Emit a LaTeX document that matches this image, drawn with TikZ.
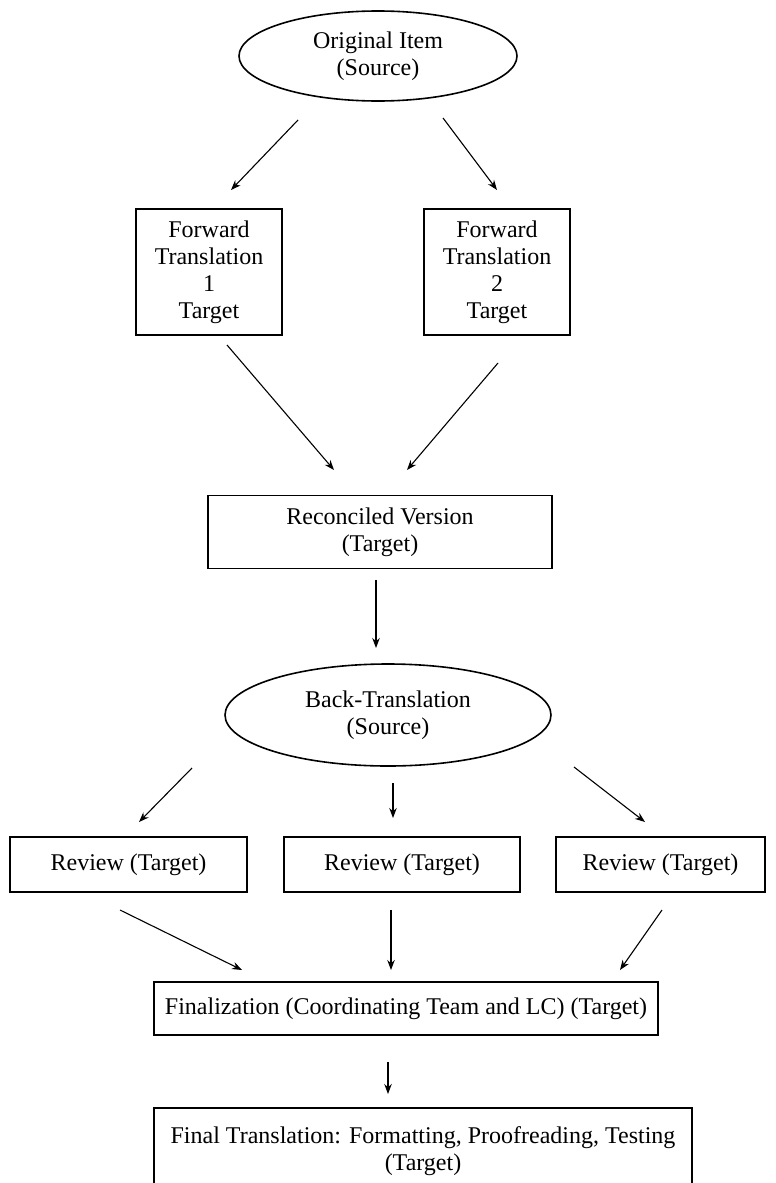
\documentclass[tikz,border=0pt]{standalone}
\usepackage{fontspec}
\setmainfont{Liberation Serif}
\usetikzlibrary{shapes.geometric,arrows.meta}
\begin{document}
\begin{tikzpicture}[x=1pt,y=-1pt,
  every node/.style={font=\fontsize{24}{27}\selectfont, align=center, inner sep=0pt},
  boxnode/.style={draw, line width=1.6pt, rectangle},
  ovalnode/.style={draw, line width=1.6pt, ellipse},
  flow/.style={line width=1.1pt, -{Stealth[length=10pt,width=7.5pt]}}]
\useasboundingbox (0,0) rectangle (776,1183);
\clip (0,0) rectangle (776,1183);

% nodes of the translation procedure
\node[ovalnode, minimum width=278pt, minimum height=90pt] (orig) at (378,56) {Original Item\\(Source)};
\node[boxnode, minimum width=146pt, minimum height=126pt] (fwd1) at (209,272) {Forward\\Translation\\1\\Target};
\node[boxnode, minimum width=146pt, minimum height=126pt] (fwd2) at (497,272) {Forward\\Translation\\2\\Target};
\node[boxnode, minimum width=344pt, minimum height=73pt] (recon) at (380,532) {Reconciled Version\\(Target)};
\node[ovalnode, minimum width=326pt, minimum height=102pt] (back) at (388,715) {Back-Translation\\(Source)};
\node[boxnode, minimum width=237pt, minimum height=55pt] (rev1) at (128.5,864.5) {Review (Target)};
\node[boxnode, minimum width=236pt, minimum height=55pt] (rev2) at (402,864.5) {Review (Target)};
\node[boxnode, minimum width=209pt, minimum height=55pt] (rev3) at (660.5,864.5) {Review (Target)};
\node[boxnode, minimum width=504pt, minimum height=53pt] (final) at (406,1008.5) {Finalization (Coordinating Team and LC) (Target)};
\node[boxnode, minimum width=538pt, minimum height=86pt] (fintr) at (423,1151) {Final Translation: Formatting, Proofreading, Testing\\(Target)};

% free ends of the connectors
\coordinate (o1s) at (298,120);  \coordinate (o1e) at (231,190);
\coordinate (o2s) at (443,118);  \coordinate (o2e) at (497,190);
\coordinate (f1s) at (227,345);  \coordinate (f1e) at (334,470);
\coordinate (f2s) at (498,363);  \coordinate (f2e) at (407,470);
\coordinate (rcs) at (376,580);  \coordinate (rce) at (376,648);
\coordinate (b1s) at (192,768);  \coordinate (b1e) at (139,822);
\coordinate (b2s) at (393,783);  \coordinate (b2e) at (393,818);
\coordinate (b3s) at (574,767);  \coordinate (b3e) at (645,822);
\coordinate (r1s) at (120,910);  \coordinate (r1e) at (242,970);
\coordinate (r2s) at (391,910);  \coordinate (r2e) at (391,970);
\coordinate (r3s) at (662,910);  \coordinate (r3e) at (620,970);
\coordinate (fns) at (388,1062); \coordinate (fne) at (388,1094);

\draw[flow] (o1s) -- (o1e);
\draw[flow] (o2s) -- (o2e);
\draw[flow] (f1s) -- (f1e);
\draw[flow] (f2s) -- (f2e);
\draw[flow] (rcs) -- (rce);
\draw[flow] (b1s) -- (b1e);
\draw[flow] (b2s) -- (b2e);
\draw[flow] (b3s) -- (b3e);
\draw[flow] (r1s) -- (r1e);
\draw[flow] (r2s) -- (r2e);
\draw[flow] (r3s) -- (r3e);
\draw[flow] (fns) -- (fne);
\end{tikzpicture}
\end{document}
